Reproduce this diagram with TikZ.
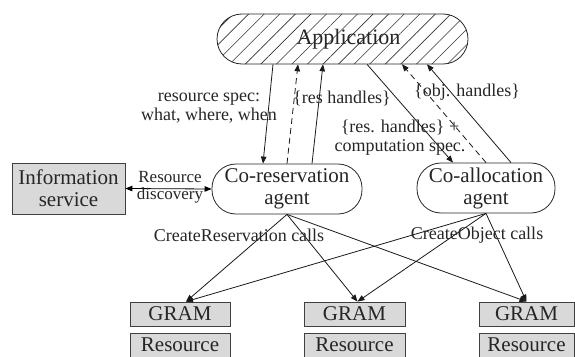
\documentclass[tikz,border=0pt]{standalone}
\usepackage{fontspec}
\setmainfont{Liberation Serif}
\usetikzlibrary{arrows.meta,patterns.meta}
\begin{document}
\begin{tikzpicture}[x=1pt,y=-1pt,
  every node/.style={font=\fontsize{21}{22}\selectfont, text=black!85},
  agent/.style={draw=black!85, line width=0.8pt, rounded corners=24pt, minimum height=50pt, align=center, inner sep=0pt},
  graybox/.style={draw=black!75, line width=0.8pt, fill=black!15, minimum width=100pt, minimum height=24pt, inner sep=0pt},
  lbl/.style={font=\fontsize{18}{19}\selectfont, align=center, inner sep=0pt},
  arr/.style={-{Triangle[length=7pt,width=5.5pt]}, line width=0.8pt, draw=black!90},
  dasharr/.style={arr, dash pattern=on 6pt off 4pt},
]
\useasboundingbox (0,0) rectangle (575,356);
\clip (0,0) rectangle (575,356);
% top application
\node[draw=black!85, line width=0.8pt, pattern={Lines[angle=45,distance=11pt,line width=0.6pt]}, pattern color=black!80,
      rounded corners=25pt, minimum width=251pt, minimum height=50pt, inner sep=0pt,
      font=\fontsize{22}{24}\selectfont] (app) at (342.5,39) {\hspace{12pt}Application};
% agents
\node[agent, minimum width=150pt] (cores) at (287,189) {Co-reservation\\agent};
\node[agent, minimum width=138pt] (coal) at (486,188) {Co-allocation\\agent};
% information service
\node[graybox, minimum width=113pt, minimum height=51pt, align=center] (info) at (68.5,188.5) {Information\\service};
% GRAM and resources
\node[graybox] (g1) at (180,314) {GRAM};
\node[graybox] (r1) at (180,345) {Resource};
\node[graybox, minimum width=101pt] (g2) at (354.5,314) {GRAM};
\node[graybox, minimum width=101pt] (r2) at (354.5,345) {Resource};
\node[graybox, minimum width=95pt] (g3) at (526.5,314) {GRAM};
\node[graybox, minimum width=95pt] (r3) at (526.5,345) {Resource};
% top connectors
\draw[arr] ([xshift=-69.5pt]app.south) -- ([xshift=-24pt]cores.north);
\draw[dasharr] (cores.north) -- ([xshift=-44.5pt]app.south);
\draw[arr] ([xshift=25pt]cores.north) -- ([xshift=-19.5pt]app.south);
\draw[arr] ([xshift=24.5pt]app.south) -- ([xshift=-33pt]coal.north);
\draw[dasharr] (coal.north) -- ([xshift=59.5pt]app.south);
\draw[arr] ([xshift=25pt]coal.north) -- ([xshift=84.5pt]app.south);
% discovery
\draw[{Triangle[length=7pt,width=5.5pt]}-{Triangle[length=7pt,width=5.5pt]}, line width=0.8pt] (info.east) -- (cores.west);
% bottom connectors
\draw[arr] (cores.south) -- ([xshift=6pt]g1.north);
\draw[arr] (cores.south) -- ([xshift=3pt]g2.north);
\draw[arr] (cores.south) -- (g3.north);
\draw[arr] (coal.south) -- ([xshift=6pt]g1.north);
\draw[arr] (coal.south) -- ([xshift=3pt]g2.north);
\draw[arr] (coal.south) -- (g3.north);
% labels
\node[lbl] (l1) at (209,108) {resource spec:\\what, where, when};
\node[lbl] (l2) at (342,98) {\{res handles\}};
\node[lbl] (l3) at (400,138) {\{res. handles\} +\\computation spec.};
\node[lbl] (l4) at (467,92) {\{obj. handles\}};
\node[lbl, font=\fontsize{17}{17}\selectfont] (l5) at (170,187) {Resource\\discovery};
\node[lbl] (l6) at (239,235) {CreateReservation calls};
\node[lbl] (l7) at (477,235) {CreateObject calls};
\end{tikzpicture}
\end{document}
